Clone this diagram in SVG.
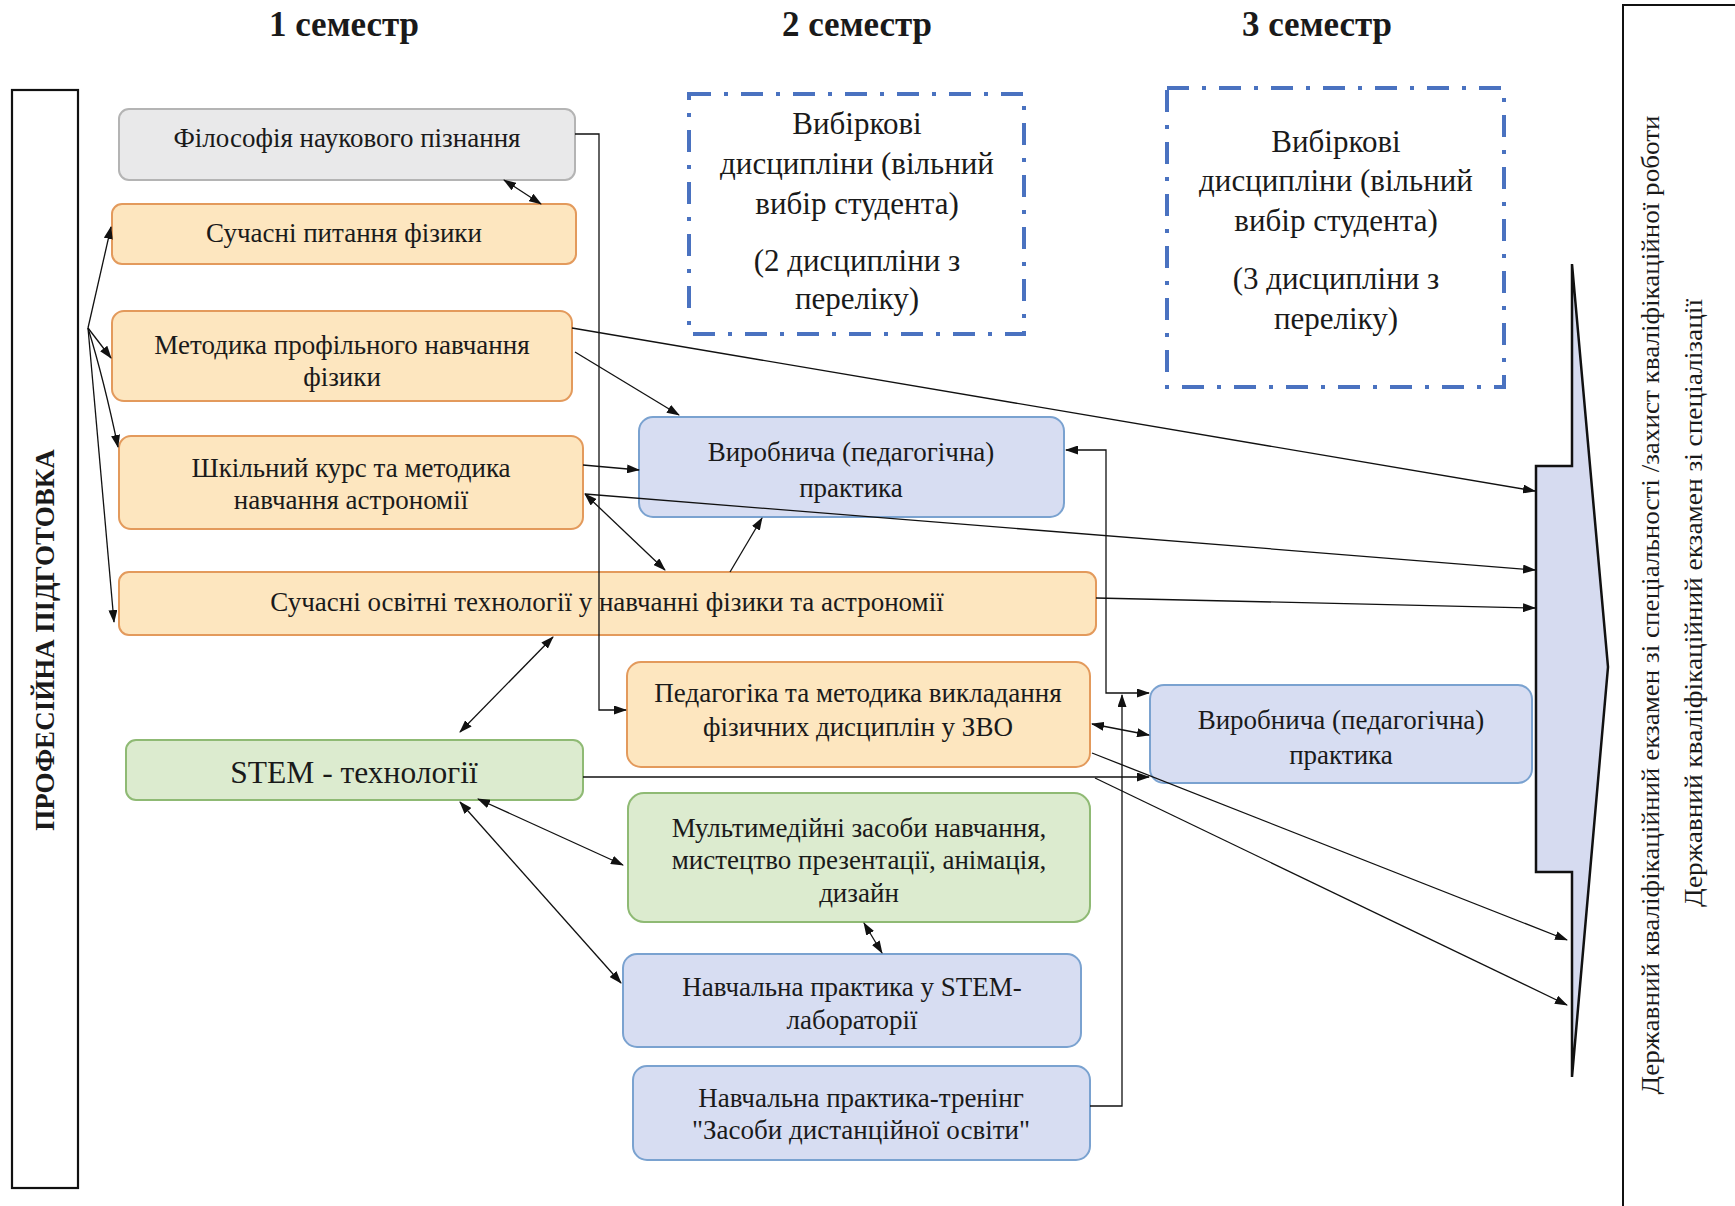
<svg xmlns="http://www.w3.org/2000/svg" width="1735" height="1206" viewBox="0 0 1735 1206">
<style>
text{font-family:"Liberation Serif","Times New Roman",serif;fill:#1a1a1a;text-anchor:middle}
.h{font-size:35px;font-weight:bold}
.t{font-size:27px}
.d{font-size:31px}
.s{font-size:31.5px}
.v{font-size:26px}
.gray{fill:#e9e9ea;stroke:#b4b4b4;stroke-width:2}
.or{fill:#fde6bf;stroke:#e39a5c;stroke-width:2}
.bl{fill:#d7ddf2;stroke:#7aa2d0;stroke-width:2}
.gr{fill:#dcebcf;stroke:#8fba74;stroke-width:2}
.dash{fill:none;stroke:#4a72c0;stroke-width:4;stroke-dasharray:22 13 4 13}
.c{fill:none;stroke:#111;stroke-width:1.3}
</style>
<defs>
<marker id="a" markerWidth="13" markerHeight="9" refX="12" refY="4.5" orient="auto-start-reverse" markerUnits="userSpaceOnUse">
<path d="M0,0 L13,4.5 L0,9 Z" fill="#111"/>
</marker>
</defs>

<g id="headers">
<text class="h" x="344" y="36">1 семестр</text>
<text class="h" x="857" y="36">2 семестр</text>
<text class="h" x="1317" y="36">3 семестр</text>
</g>

<g id="left-label">
<rect x="12" y="90" width="66" height="1098" fill="none" stroke="#111" stroke-width="2.2"/>
<text x="45" y="640" style="font-size:27px;font-weight:bold" transform="rotate(-90 45 640)" dy="9">ПРОФЕСІЙНА ПІДГОТОВКА</text>
</g>

<g id="right-label">
<path d="M1735,5 H1623 V1206" fill="none" stroke="#111" stroke-width="2"/>
<text class="v" x="1659" y="605" transform="rotate(-90 1659 605)" textLength="979" lengthAdjust="spacingAndGlyphs">Державний кваліфікаційний екзамен зі спеціальності /захист кваліфікаційної роботи</text>
<text class="v" x="1702" y="603" transform="rotate(-90 1702 603)" textLength="608" lengthAdjust="spacingAndGlyphs">Державний кваліфікаційний екзамен зі спеціалізації</text>
</g>

<g id="big-arrow">
<polygon points="1572,264 1608,667 1572,1077 1572,872 1536,872 1536,466 1572,466" fill="#d6dbf0" stroke="#111" stroke-width="2.5" stroke-linejoin="miter"/>
</g>

<g id="n-phil"><rect class="gray" x="119" y="109" width="456" height="71" rx="10"/><text class="t" x="347" y="147">Філософія наукового пізнання</text></g>
<g id="n-sp"><rect class="or" x="112" y="204" width="464" height="60" rx="10"/><text class="t" x="344" y="242">Сучасні питання фізики</text></g>
<g id="n-met"><rect class="or" x="112" y="311" width="460" height="90" rx="12"/><text class="t" x="342" y="354">Методика профільного навчання</text><text class="t" x="342" y="386">фізики</text></g>
<g id="n-shk"><rect class="or" x="119" y="436" width="464" height="93" rx="12"/><text class="t" x="351" y="477">Шкільний курс та методика</text><text class="t" x="351" y="509">навчання астрономії</text></g>
<g id="n-sot"><rect class="or" x="119" y="572" width="977" height="63" rx="10"/><text class="t" x="607" y="611">Сучасні освітні технології у навчанні фізики та астрономії</text></g>
<g id="n-stem"><rect class="gr" x="126" y="740" width="457" height="60" rx="10"/><text class="s" x="354" y="783">STEM - технології</text></g>
<g id="n-vyr1"><rect class="bl" x="639" y="417" width="425" height="100" rx="14"/><text class="t" x="851" y="461">Виробнича (педагогічна)</text><text class="t" x="851" y="497">практика</text></g>
<g id="n-ped"><rect class="or" x="627" y="662" width="463" height="105" rx="14"/><text class="t" x="858" y="702">Педагогіка та методика викладання</text><text class="t" x="858" y="736">фізичних дисциплін у ЗВО</text></g>
<g id="n-vyr2"><rect class="bl" x="1150" y="685" width="382" height="98" rx="14"/><text class="t" x="1341" y="729">Виробнича (педагогічна)</text><text class="t" x="1341" y="764">практика</text></g>
<g id="n-mm"><rect class="gr" x="628" y="793" width="462" height="129" rx="16"/><text class="t" x="859" y="837">Мультимедійні засоби навчання,</text><text class="t" x="859" y="869">мистецтво презентації, анімація,</text><text class="t" x="859" y="902">дизайн</text></g>
<g id="n-lab"><rect class="bl" x="623" y="954" width="458" height="93" rx="14"/><text class="t" x="852" y="996">Навчальна практика у STEM-</text><text class="t" x="852" y="1029">лабораторії</text></g>
<g id="n-dist"><rect class="bl" x="633" y="1066" width="457" height="94" rx="14"/><text class="t" x="861" y="1107">Навчальна практика-тренінг</text><text class="t" x="861" y="1139">"Засоби дистанційної освіти"</text></g>

<g id="n-vyb2"><rect class="dash" x="689" y="94" width="335" height="240"/>
<text class="d" x="857" y="134">Вибіркові</text><text class="d" x="857" y="174">дисципліни (вільний</text><text class="d" x="857" y="214">вибір студента)</text><text class="d" x="857" y="271">(2 дисципліни з</text><text class="d" x="857" y="309">переліку)</text></g>
<g id="n-vyb3"><rect class="dash" x="1167" y="88" width="337" height="299"/>
<text class="d" x="1336" y="152">Вибіркові</text><text class="d" x="1336" y="191">дисципліни (вільний</text><text class="d" x="1336" y="231">вибір студента)</text><text class="d" x="1336" y="289">(3 дисципліни з</text><text class="d" x="1336" y="329">переліку)</text></g>

<g id="connectors">
<path class="c" d="M575,134 H599 V710 H626" marker-end="url(#a)"/>
<path class="c" d="M504,180 L541,204" marker-start="url(#a)" marker-end="url(#a)"/>
<path class="c" d="M88,328 L111,227" marker-end="url(#a)"/>
<path class="c" d="M88,328 L111,358" marker-end="url(#a)"/>
<path class="c" d="M88,328 Q104,380 118,447" marker-end="url(#a)"/>
<path class="c" d="M88,328 L114,622" marker-end="url(#a)"/>
<path class="c" d="M575,352 L679,415" marker-end="url(#a)"/>
<path class="c" d="M572,328 L1535,491" marker-end="url(#a)"/>
<path class="c" d="M583,465 L639,470" marker-end="url(#a)"/>
<path class="c" d="M585,494 L665,570" marker-start="url(#a)" marker-end="url(#a)"/>
<path class="c" d="M585,494 L1535,570" marker-end="url(#a)"/>
<path class="c" d="M730,572 L762,518" marker-end="url(#a)"/>
<path class="c" d="M1096,598 L1535,608" marker-end="url(#a)"/>
<path class="c" d="M460,732 L553,637" marker-start="url(#a)" marker-end="url(#a)"/>
<path class="c" d="M1066,450 H1106 V693 H1149" marker-start="url(#a)" marker-end="url(#a)"/>
<path class="c" d="M1092,724 L1149,735" marker-start="url(#a)" marker-end="url(#a)"/>
<path class="c" d="M583,777 H1149" marker-end="url(#a)"/>
<path class="c" d="M1092,753 L1567,940" marker-end="url(#a)"/>
<path class="c" d="M1095,778 L1567,1005" marker-end="url(#a)"/>
<path class="c" d="M1090,1106 H1122 V695" marker-end="url(#a)"/>
<path class="c" d="M478,799 L623,865" marker-start="url(#a)" marker-end="url(#a)"/>
<path class="c" d="M460,802 L621,983" marker-start="url(#a)" marker-end="url(#a)"/>
<path class="c" d="M864,923 L882,953" marker-start="url(#a)" marker-end="url(#a)"/>
</g>
</svg>
